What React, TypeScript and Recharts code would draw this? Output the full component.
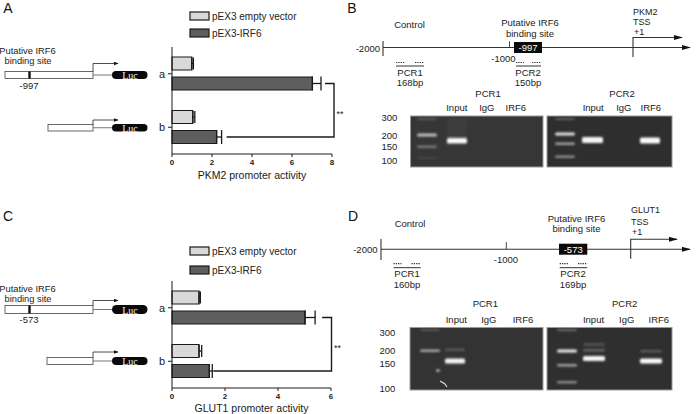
import { Bar, BarChart, ErrorBar, XAxis, YAxis } from "recharts";

const FONT = '"Liberation Sans", Arial, Helvetica, sans-serif';
const SERIF = '"Liberation Serif", "DejaVu Serif", serif';
const LIGHT = "#d9d9d9";
const DARK = "#5e5e5e";
const INK = "#1a1a1a";

const CATEGORIES = ["a", "b"];
const SERIES_NAMES = ["pEX3 empty vector", "pEX3-IRF6"];

// PKM2 reporter (panel A)
const PKM2_EMPTY = [0.99, 1.04];
const PKM2_EMPTY_ERR = [0.08, 0.1];
const PKM2_IRF6 = [7.02, 2.23];
const PKM2_IRF6_ERR = [0.43, 0.25];
const PKM2_TICKS = [0, 2, 4, 6, 8];

// GLUT1 reporter (panel C)
const GLUT1_EMPTY = [1.02, 1.02];
const GLUT1_EMPTY_ERR = [0.05, 0.1];
const GLUT1_IRF6 = [5.02, 1.41];
const GLUT1_IRF6_ERR = [0.38, 0.11];
const GLUT1_TICKS = [0, 2, 4, 6];

const LANES = ["Input", "IgG", "IRF6"];
const MARKERS = ["300", "200", "150", "100"];

const PLOT_LEFT = 172;

function buildRows(empty: number[], emptyErr: number[], irf6: number[], irf6Err: number[]) {
  return CATEGORIES.map((name, i) => ({
    name,
    empty: empty[i],
    emptyErr: [0, emptyErr[i]],
    irf6: irf6[i],
    irf6Err: [0, irf6Err[i]],
  }));
}

function ActivityChart({
  data,
  ticks,
  title,
  top,
  height,
  plotTop,
  plotBottom,
  plotRight,
  axisHeight,
  titleOffset,
}: any) {
  const width = 350;
  return (
    <div style={{ position: "absolute", left: 0, top, width, height }}>
      <BarChart
        width={width}
        height={height}
        data={data}
        layout="vertical"
        barSize={13}
        barGap={7}
        margin={{
          top: plotTop,
          right: width - plotRight,
          bottom: height - plotBottom - axisHeight,
          left: PLOT_LEFT - 20,
        }}
      >
        <XAxis
          type="number"
          domain={[ticks[0], ticks[ticks.length - 1]]}
          ticks={ticks}
          height={axisHeight}
          tickSize={3}
          tickMargin={2}
          stroke={INK}
          tick={{ fontSize: 8, fontWeight: 700, fill: INK, fontFamily: FONT }}
          label={{
            value: title,
            position: "insideBottom",
            offset: titleOffset,
            fontSize: 10.5,
            fill: INK,
            fontFamily: FONT,
          }}
        />
        <YAxis
          type="category"
          dataKey="name"
          width={20}
          tickSize={4}
          tickMargin={3}
          stroke={INK}
          tick={{ fontSize: 11, fill: INK, fontFamily: FONT }}
        />
        <Bar dataKey="empty" fill={LIGHT} stroke={INK} strokeWidth={1.2} isAnimationActive={false}>
          <ErrorBar dataKey="emptyErr" direction="x" width={6} stroke={INK} strokeWidth={1.3} />
        </Bar>
        <Bar dataKey="irf6" fill={DARK} stroke={INK} strokeWidth={1.2} isAnimationActive={false}>
          <ErrorBar dataKey="irf6Err" direction="x" width={7} stroke={INK} strokeWidth={1.3} />
        </Bar>
      </BarChart>
    </div>
  );
}

function T({ x, y, children, size = 9.5, anchor = "middle", fill = "#222", family = FONT }: any) {
  return (
    <text x={x} y={y} fontSize={size} textAnchor={anchor} dominantBaseline="central" fill={fill} fontFamily={family}>
      {children}
    </text>
  );
}

function Legend({ y1, y2 }: { y1: number; y2: number }) {
  return (
    <g>
      <rect x={190} y={y1 - 4} width={19} height={8} fill={LIGHT} stroke={INK} strokeWidth={1.2} />
      <T x={212} y={y1} size={10} anchor="start">{SERIES_NAMES[0]}</T>
      <rect x={190} y={y2 - 4} width={19} height={8} fill={DARK} stroke={INK} strokeWidth={1.2} />
      <T x={212} y={y2} size={10} anchor="start">{SERIES_NAMES[1]}</T>
    </g>
  );
}

function Construct({ x0, top, h, arrowTop, mark }: any) {
  const mid = top + h / 2;
  return (
    <g>
      <rect x={x0} y={top} width={93 - x0} height={h} fill="#fff" stroke="#444" strokeWidth={0.8} />
      {mark && <rect x={28.3} y={top} width={2.4} height={h} fill="#111" />}
      <polyline points={`93,${top} 93,${arrowTop} 118,${arrowTop}`} fill="none" stroke="#222" strokeWidth={0.8} markerEnd="url(#ahs)" />
      <line x1={93} y1={mid} x2={113} y2={mid} stroke="#777" strokeWidth={1} />
      <rect x={112} y={top - 0.5} width={35.5} height={h + 1} rx={(h + 1) / 2} fill="#0a0a0a" />
      <T x={130} y={mid + 0.5} size={10} fill="#f4f4f4" family={SERIF}>Luc</T>
    </g>
  );
}

function Bracket({ x1, xr, y1, y2, x2, starY }: any) {
  return (
    <g>
      <polyline points={`${x1},${y1} ${xr},${y1} ${xr},${y2} ${x2},${y2}`} fill="none" stroke={INK} strokeWidth={1.4} />
      <T x={xr + 6} y={starY} size={9}>**</T>
    </g>
  );
}

function Primers({ a1, a2, b1, b2, py, ly, label, bp, cx, labelY, bpY }: any) {
  return (
    <g>
      <line x1={a1} x2={a2} y1={py} y2={py} stroke="#333" strokeWidth={1.2} strokeDasharray="1.3 1" />
      <line x1={b1} x2={b2} y1={py} y2={py} stroke="#333" strokeWidth={1.2} strokeDasharray="1.3 1" />
      <line x1={a1} x2={b2} y1={ly} y2={ly} stroke="#333" strokeWidth={1} />
      <T x={cx} y={labelY}>{label}</T>
      <T x={cx} y={bpY}>{bp}</T>
    </g>
  );
}

function Gel({ x, y, w, h, bands, fill = "#333" }: any) {
  return (
    <g>
      <rect x={x} y={y} width={w} height={h} fill={fill} stroke="#9a9a9a" strokeWidth={1} />
      <g filter="url(#glow)">
        {bands.map((b: number[], i: number) => (
          <rect key={i} x={b[0]} y={b[1]} width={b[2]} height={b[3]} rx={1.5} fill={`rgb(${b[4]},${b[4]},${b[4]})`} />
        ))}
      </g>
    </g>
  );
}

// gel bands: [x, y, w, h, grey]
const GEL_B1 = [
  [417, 118, 20, 2, 90], [417, 133.5, 20, 3, 190], [417, 145.5, 20, 2.5, 120], [417, 157, 20, 2, 70],
  [447, 118, 20, 18, 60], [447, 138, 20, 5.5, 250],
];
const GEL_B2 = [
  [555, 118, 20, 2, 95], [555, 132.5, 20, 3, 225], [555, 142.5, 20, 2.5, 160], [555, 155.5, 20, 2.5, 140],
  [582, 137, 21, 6, 245], [640, 137.5, 20, 6, 250],
];
const GEL_D1 = [
  [420, 329, 20, 2, 90], [420, 349.5, 20, 2.5, 165], [436, 369, 4, 3, 170],
  [445, 348.5, 20, 2.5, 90], [445, 358.5, 20, 5, 245],
];
const GEL_D2 = [
  [557, 329, 20, 2, 110], [557, 349.5, 20, 3, 235], [557, 364, 20, 2.5, 160], [557, 381, 20, 2.5, 140],
  [583, 343, 22, 3, 80], [583, 349, 22, 2.5, 100], [583, 356, 22, 5, 245],
  [640, 350, 22, 2.5, 90], [640, 358.5, 22, 5, 250],
];

function GelLabels({ pcrY, laneY, laneX, pcrX, markerX, markerY }: any) {
  return (
    <g>
      <T x={pcrX[0]} y={pcrY}>PCR1</T>
      <T x={pcrX[1]} y={pcrY}>PCR2</T>
      {LANES.concat(LANES).map((l, i) => (
        <T key={i} x={laneX[i]} y={laneY}>{l}</T>
      ))}
      {MARKERS.map((m, i) => (
        <T key={m} x={markerX} y={markerY[i]} anchor="end">{m}</T>
      ))}
    </g>
  );
}

function Overlay() {
  const xA = (v: number) => PLOT_LEFT + (v * 160) / PKM2_TICKS[PKM2_TICKS.length - 1];
  const xC = (v: number) => PLOT_LEFT + (v * 159) / GLUT1_TICKS[GLUT1_TICKS.length - 1];
  return (
    <svg width={696} height={414} style={{ position: "absolute", left: 0, top: 0, pointerEvents: "none" }}>
      <defs>
        <marker id="ahs" viewBox="0 0 10 10" refX="9" refY="5" markerWidth="5" markerHeight="4" orient="auto" markerUnits="userSpaceOnUse" preserveAspectRatio="none">
          <path d="M0,0 L10,5 L0,10 z" fill="#111" />
        </marker>
        <marker id="ahb" viewBox="0 0 10 10" refX="9" refY="5" markerWidth="9" markerHeight="5" orient="auto" markerUnits="userSpaceOnUse" preserveAspectRatio="none">
          <path d="M0,0 L10,5 L0,10 z" fill="#111" />
        </marker>
        <filter id="glow" x="-30%" y="-100%" width="160%" height="300%">
          <feGaussianBlur stdDeviation="0.9" />
        </filter>
      </defs>

      {/* panel letters */}
      <T x={8} y={7.5} size={14} fill="#111">A</T>
      <T x={352} y={7.5} size={14} fill="#111">B</T>
      <T x={8} y={216} size={14} fill="#111">C</T>
      <T x={353} y={215.5} size={14} fill="#111">D</T>

      {/* A */}
      <Legend y1={16} y2={33} />
      <T x={27.5} y={50.5} size={9.3}>Putative IRF6</T>
      <T x={28} y={61} size={9.3}>binding site</T>
      <Construct x0={5} top={71.5} h={7} arrowTop={63.5} mark />
      <T x={29} y={85}>-997</T>
      <Construct x0={48} top={124.5} h={6.5} arrowTop={120} />
      <Bracket
        x1={xA(PKM2_IRF6[0] + PKM2_IRF6_ERR[0]) + 4}
        xr={334}
        y1={83.5}
        y2={137}
        x2={xA(PKM2_IRF6[1] + PKM2_IRF6_ERR[1]) + 5}
        starY={114}
      />

      {/* C */}
      <Legend y1={251} y2={270} />
      <T x={27.5} y={289} size={9.3}>Putative IRF6</T>
      <T x={28} y={298.5} size={9.3}>binding site</T>
      <Construct x0={5} top={305.5} h={8} arrowTop={300.5} mark />
      <T x={29} y={319}>-573</T>
      <Construct x0={47} top={357.5} h={7} arrowTop={352} />
      <Bracket
        x1={xC(GLUT1_IRF6[0] + GLUT1_IRF6_ERR[0]) + 7}
        xr={331.5}
        y1={317.5}
        y2={371}
        x2={xC(GLUT1_IRF6[1] + GLUT1_IRF6_ERR[1]) + 1}
        starY={348}
      />

      {/* B map */}
      <T x={409.5} y={24}>Control</T>
      <T x={530} y={22.5}>Putative IRF6</T>
      <T x={530} y={33}>binding site</T>
      <T x={633} y={11.5} anchor="start" size={9}>PKM2</T>
      <T x={633} y={22} anchor="start" size={9}>TSS</T>
      <T x={634} y={31.5} anchor="start" size={9}>+1</T>
      <T x={380} y={48} anchor="end">-2000</T>
      <line x1={383} y1={47.5} x2={690} y2={47.5} stroke="#333" strokeWidth={1.1} markerEnd="url(#ahb)" />
      <line x1={383} y1={41} x2={383} y2={56} stroke="#333" strokeWidth={1.1} />
      <line x1={509.5} y1={41.5} x2={509.5} y2={47.5} stroke="#333" strokeWidth={0.9} />
      <rect x={514} y={42} width={28} height={11} fill="#0a0a0a" />
      <T x={528} y={47.5} fill="#fff">-997</T>
      <T x={503.5} y={58}>-1000</T>
      <polyline points="633,57 633,37.5 682,37.5" fill="none" stroke="#333" strokeWidth={1.1} markerEnd="url(#ahb)" />
      <Primers a1={396} a2={405} b1={415} b2={424} py={62.5} ly={66} label="PCR1" bp="168bp" cx={410} labelY={72} bpY={82.5} />
      <Primers a1={516} a2={524} b1={532} b2={541} py={62.5} ly={66} label="PCR2" bp="150bp" cx={528} labelY={72} bpY={82.5} />

      {/* B gels */}
      <GelLabels
        pcrY={93.3}
        laneY={107.5}
        pcrX={[488, 622]}
        laneX={[456.8, 486.8, 515.8, 593.2, 623.8, 650.8]}
        markerX={397.3}
        markerY={[117.7, 135, 146.7, 160]}
      />
      <Gel x={410.5} y={116} w={132.5} h={51} bands={GEL_B1} fill="#363636" />
      <Gel x={547} y={116} w={125} h={51} bands={GEL_B2} fill="#2e2e2e" />

      {/* D map */}
      <T x={410} y={223}>Control</T>
      <T x={576.5} y={218}>Putative IRF6</T>
      <T x={576.5} y={228}>binding site</T>
      <T x={631} y={210} anchor="start" size={9}>GLUT1</T>
      <T x={631} y={221.5} anchor="start" size={9}>TSS</T>
      <T x={632} y={232} anchor="start" size={9}>+1</T>
      <T x={377.5} y={249.3} anchor="end">-2000</T>
      <line x1={381} y1={249.3} x2={690} y2={249.3} stroke="#333" strokeWidth={1.1} markerEnd="url(#ahb)" />
      <line x1={381} y1={239} x2={381} y2={260} stroke="#333" strokeWidth={1.1} />
      <line x1={506.3} y1={242} x2={506.3} y2={249.3} stroke="#333" strokeWidth={0.9} />
      <T x={506} y={259.5}>-1000</T>
      <rect x={559} y={243.7} width={28.3} height={11} fill="#0a0a0a" />
      <T x={573.2} y={249.3} fill="#fff">-573</T>
      <polyline points="630.7,258.7 630.7,239.3 677,239.3" fill="none" stroke="#333" strokeWidth={1.1} markerEnd="url(#ahb)" />
      <Primers a1={393.5} a2={401.5} b1={411.5} b2={420.7} py={263.7} ly={267.7} label="PCR1" bp="160bp" cx={407} labelY={273.7} bpY={284.3} />
      <Primers a1={559.7} a2={568} b1={578} b2={587.3} py={263.7} ly={267.7} label="PCR2" bp="169bp" cx={573} labelY={273.7} bpY={284.3} />

      {/* D gels */}
      <GelLabels
        pcrY={303.7}
        laneY={319.5}
        pcrX={[485.3, 624.7]}
        laneX={[456.3, 488.8, 523, 593.5, 626.7, 658.8]}
        markerX={395.3}
        markerY={[332, 350.3, 363, 388]}
      />
      <Gel x={410} y={327.5} w={133} h={62.5} bands={GEL_D1} fill="#333" />
      <Gel x={547} y={327.5} w={125} h={62.5} bands={GEL_D2} fill="#2f2f2f" />
      <polyline points="440,381 445,384 447,387" fill="none" stroke="#ddd" strokeWidth={1.2} />
    </svg>
  );
}

export default function App() {
  const pkm2 = buildRows(PKM2_EMPTY, PKM2_EMPTY_ERR, PKM2_IRF6, PKM2_IRF6_ERR);
  const glut1 = buildRows(GLUT1_EMPTY, GLUT1_EMPTY_ERR, GLUT1_IRF6, GLUT1_IRF6_ERR);
  return (
    <div
      style={{
        position: "absolute",
        left: 0,
        top: 0,
        width: 696,
        height: 414,
        overflow: "hidden",
        background: "#fff",
        fontFamily: FONT,
      }}
    >
      <ActivityChart
        data={pkm2}
        ticks={PKM2_TICKS}
        title="PKM2 promoter activity"
        top={0}
        height={190}
        plotTop={47}
        plotBottom={154}
        plotRight={332}
        axisHeight={36}
        titleOffset={11}
      />
      <ActivityChart
        data={glut1}
        ticks={GLUT1_TICKS}
        title="GLUT1 promoter activity"
        top={200}
        height={214}
        plotTop={81}
        plotBottom={188}
        plotRight={331}
        axisHeight={26}
        titleOffset={2}
      />
      <Overlay />
    </div>
  );
}
